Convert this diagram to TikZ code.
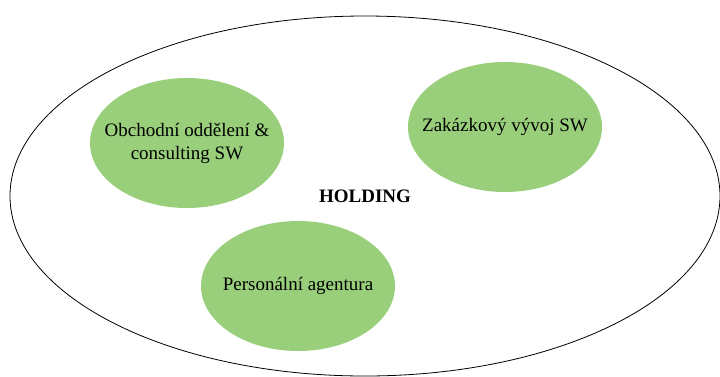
\documentclass[tikz,border=0pt]{standalone}
\usepackage{fontspec}
\setmainfont{Liberation Serif}
\usepackage{tikz}
\usetikzlibrary{positioning}
\usetikzlibrary{shapes}
\definecolor{unitgreen}{RGB}{153,207,122}

\begin{document}
\begin{tikzpicture}[x=1pt, y=-1pt,
            holdingnode/.style={ellipse, draw=black, thick, fill=white, minimum width=710pt, minimum height=360pt, font=\fontsize{19}{22}\selectfont\bfseries},
            unitnode/.style={ellipse, fill=unitgreen, minimum width=194pt, minimum height=130pt, inner xsep=-20pt, inner ysep=0pt, align=center, font=\fontsize{19}{23}\selectfont}]
            \useasboundingbox (0,0) rectangle (720,376);
            %Nodes
            \node[holdingnode] (holding)    at (365,196) {HOLDING};
            \node[unitnode]    (obchod)     at (187,143) {Obchodní oddělení \&\\consulting SW};
            \node[unitnode]    (zakazka)    at (505,127) {Zakázkový vývoj SW};
            \node[unitnode]    (personal)   at (298,286) {Personální agentura};
        \end{tikzpicture}
\end{document}
